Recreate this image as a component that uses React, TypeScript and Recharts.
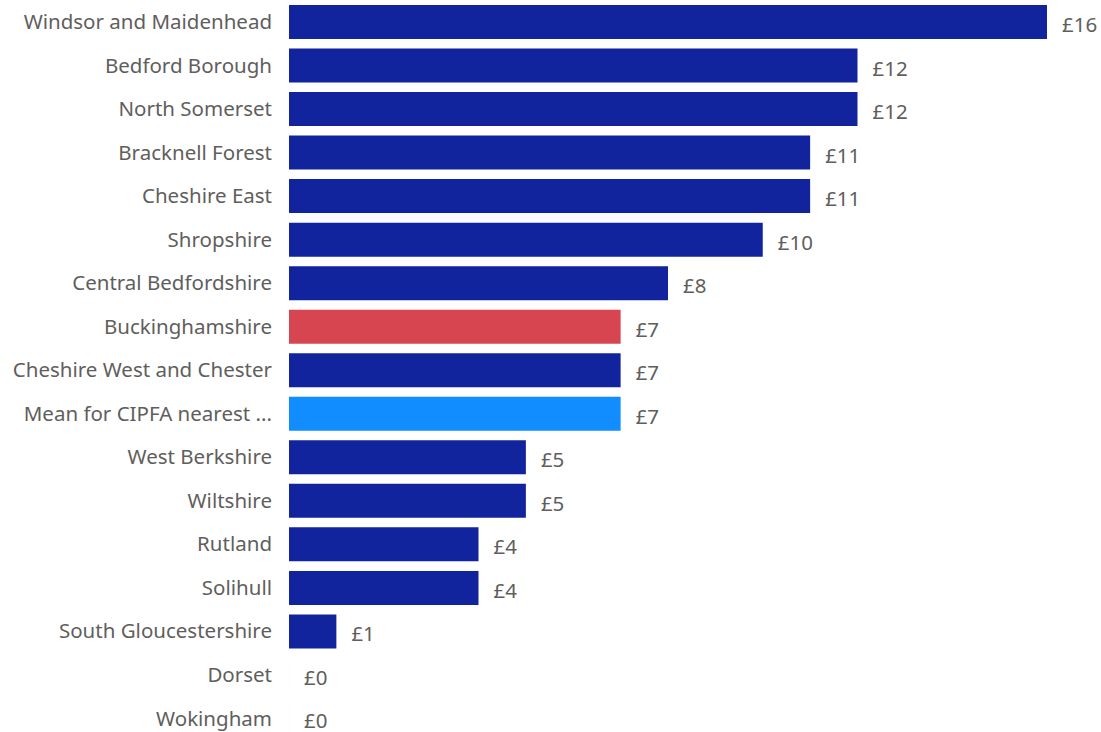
import { BarChart, Bar, XAxis, YAxis, Cell, LabelList } from 'recharts';

const areas = [
  'Windsor and Maidenhead',
  'Bedford Borough',
  'North Somerset',
  'Bracknell Forest',
  'Cheshire East',
  'Shropshire',
  'Central Bedfordshire',
  'Buckinghamshire',
  'Cheshire West and Chester',
  'Mean for CIPFA nearest ...',
  'West Berkshire',
  'Wiltshire',
  'Rutland',
  'Solihull',
  'South Gloucestershire',
  'Dorset',
  'Wokingham',
];

const spend = [16, 12, 12, 11, 11, 10, 8, 7, 7, 7, 5, 5, 4, 4, 1, 0, 0];

const NAVY = '#12239E';
const HIGHLIGHT = '#D64550';
const MEAN = '#118DFF';
const TEXT = '#605E5C';

function barColor(name: string) {
  if (name === 'Buckinghamshire') return HIGHLIGHT;
  if (name.startsWith('Mean for')) return MEAN;
  return NAVY;
}

const data = areas.map((name, i) => ({ name, value: spend[i] }));

const FONT = '"Noto Sans", "Open Sans", sans-serif';
const FS = 20.5;

// value label to the right of the bar, drawn even for £0 rows
function ValueLabel(props: any) {
  const { x, y, width, height, value } = props;
  const w = Number(width) || 0;
  return (
    <text
      x={Number(x) + w + 15}
      y={Number(y) + Number(height) / 2 + 2}
      dominantBaseline="central"
      fill={TEXT}
      fontSize={FS}
      fontFamily={FONT}
    >
      {`£${value}`}
    </text>
  );
}

export default function App() {
  return (
    <div style={{ position: 'absolute', top: 0, left: 0, width: 1101, height: 740, background: '#fff' }}>
      <BarChart
        width={1101}
        height={740}
        data={data}
        layout="vertical"
        margin={{ top: 0, right: 54, bottom: 0, left: 0 }}
        barCategoryGap={0}
      >
        <XAxis type="number" domain={[0, 16]} hide />
        <YAxis
          type="category"
          dataKey="name"
          width={289}
          axisLine={false}
          tickLine={false}
          tickSize={0}
          tickMargin={17}
          interval={0}
          tick={{ fill: TEXT, fontSize: FS, fontFamily: FONT }}
        />
        <Bar dataKey="value" barSize={34} minPointSize={0.01} isAnimationActive={false}>
          {data.map((d) => (
            <Cell key={d.name} fill={barColor(d.name)} />
          ))}
          <LabelList dataKey="value" content={ValueLabel} />
        </Bar>
      </BarChart>
    </div>
  );
}
